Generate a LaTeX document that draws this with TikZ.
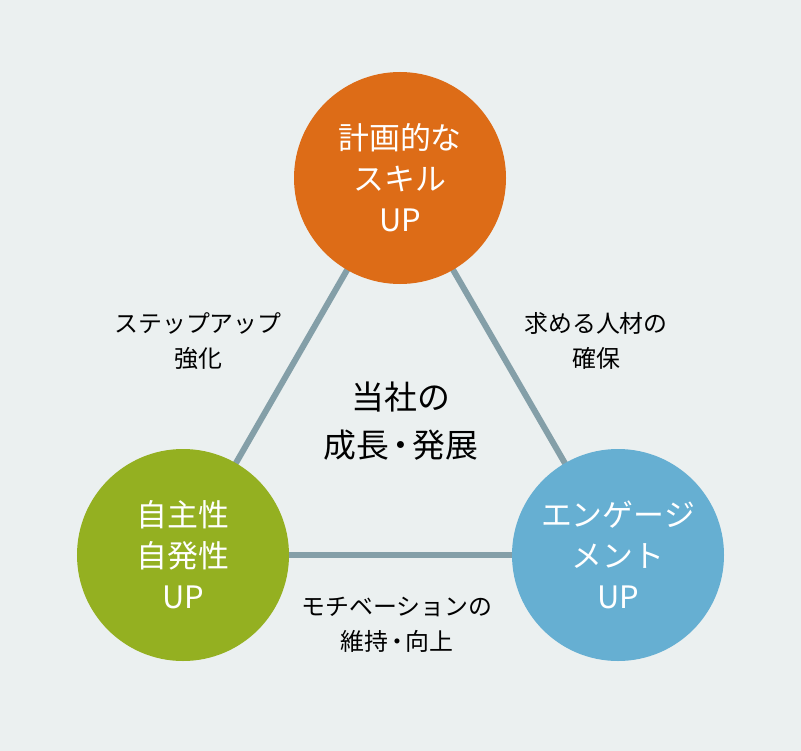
\documentclass[tikz,border=0pt]{standalone}
\usepackage{fontspec}
\setmainfont{Noto Sans CJK JP}
\usetikzlibrary{backgrounds}

\definecolor{bgcolor}{RGB}{235,240,240}
\definecolor{linkcolor}{RGB}{132,159,168}
\definecolor{skillcolor}{RGB}{221,108,23}
\definecolor{selfcolor}{RGB}{148,176,33}
\definecolor{engagecolor}{RGB}{102,175,210}

% narrow middle dot
\newcommand{\middot}{\hspace{-0.14em}・\hspace{-0.14em}}

\tikzset{
  goal/.style={circle, minimum size=212bp, inner sep=0pt, text=white,
    align=center, font=\fontsize{31}{41}\selectfont},
  link/.style={line width=6bp, linkcolor},
  tag/.style={align=center, font=\fontsize{24}{35}\selectfont}
}

\begin{document}
\begin{tikzpicture}[x=1bp, y=-1bp]
  % Circles
  \node[goal, fill=skillcolor] (skill) at (400,178) {計画的な\\スキル\\UP};
  \node[goal, fill=selfcolor] (self) at (183,555) {自主性\\自発性\\UP};
  \node[goal, fill=engagecolor] (engage) at (618,555) {エンゲージ\\メント\\UP};

  % Center text
  \node[align=center, font=\fontsize{33}{48}\selectfont] (core) at (401,421) {当社の\\成長\middot 発展};

  % Labels
  \node[tag] (steplabel) at (198,341) {ステップアップ\\強化};
  \node[tag] (hirelabel) at (596,341) {求める人材の\\確保};
  \node[tag] (motivlabel) at (397,625) {モチベーションの\\維持\middot 向上};

  % Background and links
  \begin{pgfonlayer}{background}
    \fill[bgcolor] (0,0) rectangle (801,751);
    \draw[link] (skill.center) -- (self.center);
    \draw[link] (skill.center) -- (engage.center);
    \draw[link] (self.center) -- (engage.center);
  \end{pgfonlayer}
\end{tikzpicture}
\end{document}
